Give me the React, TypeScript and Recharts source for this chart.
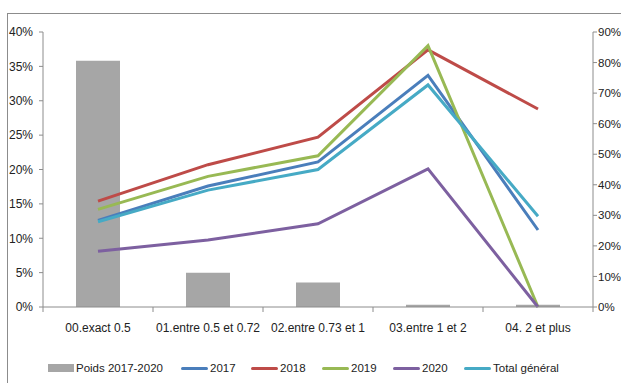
import React from 'react';
import { ComposedChart, Bar, Line, XAxis, YAxis } from 'recharts';

const categories = ['00.exact 0.5', '01.entre 0.5 et 0.72', '02.entre 0.73 et 1', '03.entre 1 et 2', '04. 2 et plus'];
const poids = [0.806, 0.112, 0.08, 0.0075, 0.007];
const y2017 = [0.126, 0.176, 0.211, 0.337, 0.112];
const y2018 = [0.154, 0.207, 0.247, 0.374, 0.288];
const y2019 = [0.142, 0.19, 0.22, 0.38, 0];
const y2020 = [0.081, 0.0975, 0.121, 0.201, 0];
const total = [0.124, 0.17, 0.2, 0.323, 0.132];

const leftTicks = [0, 0.05, 0.1, 0.15, 0.2, 0.25, 0.3, 0.35, 0.4];
const rightTicks = [0, 0.1, 0.2, 0.3, 0.4, 0.5, 0.6, 0.7, 0.8, 0.9];

const data = categories.map((name, i) => ({
  name,
  poids: poids[i],
  y2017: y2017[i],
  y2018: y2018[i],
  y2019: y2019[i],
  y2020: y2020[i],
  total: total[i],
}));

const FONT = '"Liberation Sans", Arial, sans-serif';
const AXIS = '#8c8c8c';

const series = [
  { key: 'y2017', label: '2017', color: '#4a7ebb' },
  { key: 'y2018', label: '2018', color: '#be4b48' },
  { key: 'y2019', label: '2019', color: '#98b954' },
  { key: 'y2020', label: '2020', color: '#7d60a0' },
  { key: 'total', label: 'Total général', color: '#46aac5' },
];

// legend item left edges, px
const legendX = [48, 181, 251, 322, 393, 464];

const pct = (v: number) => `${Math.round(v * 100)}%`;

const BAND = 110;

const CatTick = (props: any) => {
  const { x, y, payload, index } = props;
  return (
    <g>
      <line x1={x - BAND / 2} x2={x - BAND / 2} y1={y - 8} y2={y - 3} stroke={AXIS} />
      {index === categories.length - 1 && (
        <line x1={x + BAND / 2} x2={x + BAND / 2} y1={y - 8} y2={y - 3} stroke={AXIS} />
      )}
      <text x={x} y={y + 17} textAnchor="middle" fontSize={12} fill="#222" fontFamily={FONT}>
        {payload.value}
      </text>
    </g>
  );
};

const LegendBox = () => (
  <div style={{ position: 'absolute', left: 0, top: 362, width: 621, height: 16, fontFamily: FONT, fontSize: 11.5, color: '#222' }}>
    <div style={{ position: 'absolute', left: legendX[0], top: 0, display: 'flex', alignItems: 'center', whiteSpace: 'nowrap' }}>
      <span style={{ width: 26, height: 8, background: '#a6a6a6', marginRight: 2 }} />
      <span>Poids 2017-2020</span>
    </div>
    {series.map((s, i) => (
      <div key={s.key} style={{ position: 'absolute', left: legendX[i + 1], top: 0, display: 'flex', alignItems: 'center', whiteSpace: 'nowrap' }}>
        <span style={{ width: 27, height: 3, borderRadius: 2, background: s.color, marginRight: 2 }} />
        <span>{s.label}</span>
      </div>
    ))}
  </div>
);

export default function App() {
  return (
    <div style={{ position: 'absolute', left: 0, top: 0, width: 621, height: 383, background: '#fff', overflow: 'hidden' }}>
      <div style={{ position: 'absolute', left: 7, top: 13, width: 700, height: 500, borderTop: '1px solid #8c8c8c', borderLeft: '1px solid #8c8c8c' }} />
      <ComposedChart width={621} height={383} data={data} margin={{ top: 32, right: 0, bottom: 0, left: 0 }}>
        <XAxis
          dataKey="name"
          height={76}
          stroke={AXIS}
          tickLine={false}
          tick={<CatTick />}
          interval={0}
        />
        <YAxis
          yAxisId="left"
          orientation="left"
          width={43}
          domain={[0, 0.4]}
          ticks={leftTicks}
          tickFormatter={pct}
          stroke={AXIS}
          tickSize={4}
          tickMargin={6}
          tick={{ fill: '#222', fontSize: 12, fontFamily: FONT }}
          interval={0}
        />
        <YAxis
          yAxisId="right"
          orientation="right"
          width={28}
          domain={[0, 0.9]}
          ticks={rightTicks}
          tickFormatter={pct}
          stroke={AXIS}
          tickSize={4}
          tickMargin={1}
          tick={{ fill: '#222', fontSize: 11.5, fontFamily: FONT }}
          interval={0}
        />
        <Bar yAxisId="right" dataKey="poids" fill="#a6a6a6" barSize={44} isAnimationActive={false} />
        {series.map((s) => (
          <Line
            key={s.key}
            yAxisId="left"
            type="linear"
            dataKey={s.key}
            stroke={s.color}
            strokeWidth={3}
            dot={false}
            isAnimationActive={false}
          />
        ))}
      </ComposedChart>
      <LegendBox />
    </div>
  );
}
